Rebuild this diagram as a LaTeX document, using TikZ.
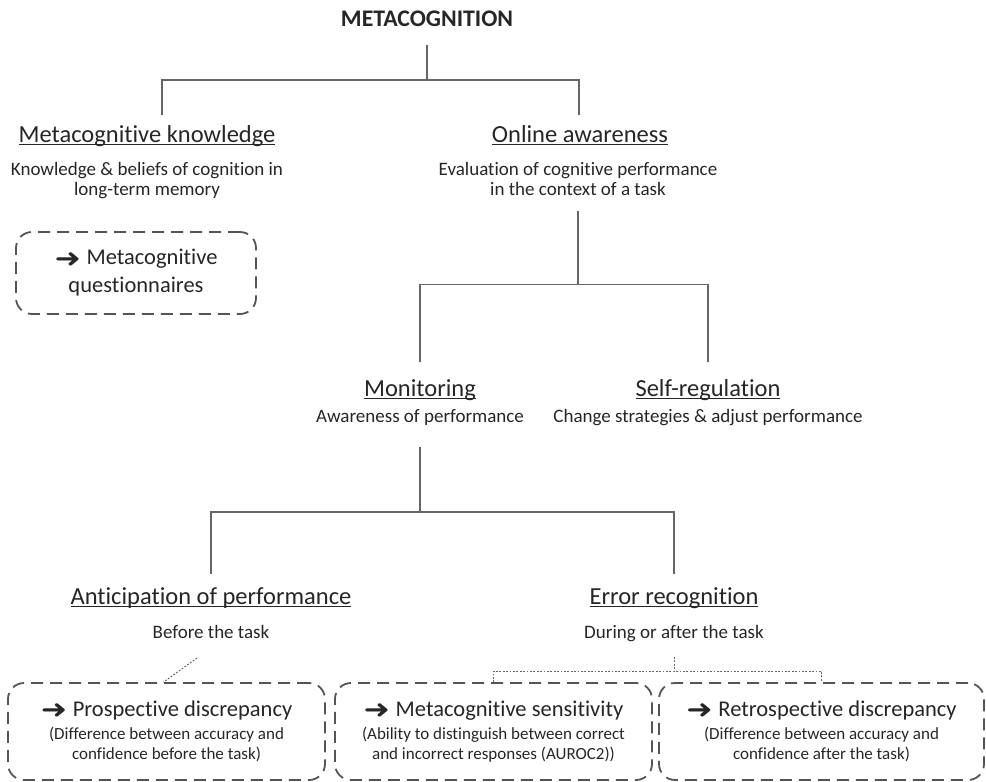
\documentclass[tikz,border=0pt]{standalone}
\usepackage{fontspec}
\setmainfont{Carlito}[Ligatures=NoCommon]
\newfontfamily\arrowfont{DejaVu Sans}

\definecolor{inkgray}{HTML}{262626}
\definecolor{linegray}{HTML}{666666}
\definecolor{boxgray}{HTML}{555555}

\newcommand{\undertext}[1]{\setbox0\hbox{#1}\rlap{\rule[-3pt]{\wd0}{1.3pt}}\box0}
\newcommand{\goesto}{\raisebox{-0.1em}{\scalebox{1.4}[1.15]{\arrowfont ➜}}\hspace{0.25em}}

\tikzset{
  tree/.style={draw=linegray, line width=1.2pt},
  dotlink/.style={draw=linegray, line width=1pt, dash pattern=on 1.8pt off 1.6pt},
  title/.style={anchor=base, inner sep=0pt, text=inkgray, font=\bfseries\fontsize{23.8}{26}\selectfont},
  head/.style={anchor=base, inner sep=0pt, text=inkgray, font=\fontsize{24.5}{28}\selectfont},
  sub/.style={anchor=base, inner sep=0pt, text=inkgray, font=\fontsize{19}{21}\selectfont},
  desc/.style={anchor=north, inner sep=0pt, align=center, text=inkgray, font=\fontsize{19}{20.5}\selectfont},
  measurebox/.style={draw=boxgray, line width=1.8pt, dash pattern=on 12pt off 7pt,
    rounded corners=16pt, align=center, inner sep=0pt, text=inkgray},
}

\begin{document}
\begin{tikzpicture}[x=1pt, y=-1pt]
  \useasboundingbox (0,0) rectangle (986,782);

  \node[title] (meta) at (427,26) {METACOGNITION};

  % first level
  \node[head] (know) at (147,142) {\undertext{Metacognitive knowledge}};
  \node[desc] (knowtxt) at (147,162) {Knowledge \& beliefs of cognition in\\long-term memory};
  \node[measurebox, minimum width=240pt, minimum height=82pt,
    font=\fontsize{22.5}{28}\selectfont] (quest) at (136,273) {\goesto Metacognitive\\questionnaires};

  \node[head] (online) at (580,142) {\undertext{Online awareness}};
  \node[desc] (onlinetxt) at (578,162) {Evaluation of cognitive performance\\in the context of a task};

  % second level
  \node[head] (mon) at (420,396) {\undertext{Monitoring}};
  \node[sub] (montxt) at (420,422) {Awareness of performance};
  \node[head] (selfreg) at (708,396) {\undertext{Self-regulation}};
  \node[sub] (selfregtxt) at (708,422) {Change strategies \& adjust performance};

  % third level
  \node[head] (antic) at (211,604) {\undertext{Anticipation of performance}};
  \node[sub] (antsub) at (211,638) {Before the task};
  \node[head] (errrec) at (674,604) {\undertext{Error recognition}};
  \node[sub] (errsub) at (674,638) {During or after the task};

  % measures
  \node[measurebox, minimum width=317pt, minimum height=97pt,
    font=\fontsize{17}{20}\selectfont] (prosp) at (166.5,731.5)
    {{\fontsize{22.5}{23}\selectfont\goesto Prospective discrepancy}\\[3pt]
     (Difference between accuracy and\\confidence before the task)};
  \node[measurebox, minimum width=317pt, minimum height=97pt,
    font=\fontsize{17}{20}\selectfont] (sens) at (493.5,731.5)
    {{\fontsize{22.5}{23}\selectfont\goesto Metacognitive sensitivity}\\[3pt]
     (Ability to distinguish between correct\\and incorrect responses (AUROC2))};
  \node[measurebox, minimum width=325pt, minimum height=97pt,
    font=\fontsize{17}{20}\selectfont] (retro) at (821.5,731.5)
    {{\fontsize{22.5}{23}\selectfont\goesto Retrospective discrepancy}\\[3pt]
     (Difference between accuracy and\\confidence after the task)};

  % tree lines
  \draw[tree] ([yshift=-19pt]meta.base) -- ++(0,35) coordinate (split1);
  \draw[tree] ([xshift=15pt,yshift=27pt]know.base) |- (split1) -| ([xshift=-1pt,yshift=27pt]online.base);
  \draw[tree] ([yshift=-15pt]onlinetxt.south) -- ++(0,73) coordinate (split2);
  \draw[tree] ([yshift=34pt]mon.base) |- (split2) -| ([yshift=34pt]selfreg.base);
  \draw[tree] ([yshift=-25pt]montxt.base) -- ++(0,65) coordinate (split3);
  \draw[tree] ([yshift=30pt]antic.base) |- (split3) -| ([yshift=30pt]errrec.base);

  % dotted links to measures
  \draw[dotlink] ([xshift=-14pt,yshift=-20pt]antsub.base) -- ([xshift=-3pt]prosp.north);
  \draw[dotlink] ([yshift=-19pt]errsub.base) -- ++(0,14) coordinate (split4);
  \draw[dotlink] (sens.north) |- (split4) -| (retro.north);
\end{tikzpicture}
\end{document}
